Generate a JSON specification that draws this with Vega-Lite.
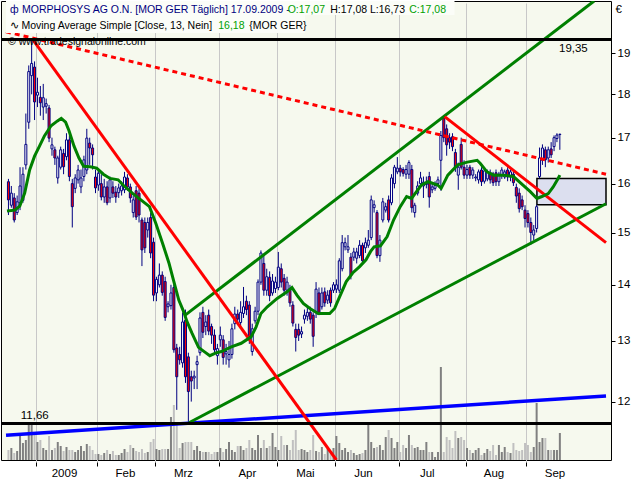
{
"$schema":"https://vega.github.io/schema/vega-lite/v6.json",
"width":610,"height":459,
"autosize":{"type":"none"},
"padding":{"left":1,"top":1,"right":29,"bottom":20},
"background":"#FFFFFF",
"config":{"view":{"fill":"#F6F9EE","stroke":"#000000","strokeWidth":1},"font":"Liberation Sans","text":{"font":"Liberation Sans","fontSize":10.5},
 "axisX":{"labelExpr":"datum.value < 20 ? '2009' : datum.value < 40 ? 'Feb' : datum.value < 60 ? 'Mrz' : datum.value < 80 ? 'Apr' : datum.value < 100 ? 'Mai' : datum.value < 120 ? 'Jun' : datum.value < 140 ? 'Jul' : datum.value < 165 ? 'Aug' : 'Sep'",
    "labelOffset":28,"labelFlush":false,"labelOverlap":false,"tickSize":4,"offset":2,"labelPadding":1,"domain":false,
    "grid":true,"gridColor":"#C8C8C8","tickColor":"#000000","labelColor":"#000000","labelFontSize":11.5,"labelFont":"Liberation Sans"},
 "axisY":{"format":"d","tickSize":4,"labelPadding":2,"domain":false,"grid":true,"gridColor":"#C8C8C8","tickColor":"#000000","labelColor":"#000000","labelFontSize":11.5,"labelFont":"Liberation Sans","titleAngle":0,"titleX":4,"titleY":8,"titleAlign":"left","titleBaseline":"middle","titleFontWeight":"normal","titleFontSize":11.5,"titleFont":"Liberation Sans","titleColor":"#000000"}
},
"datasets":{
"k":[
{"n":0,"o":16.04,"h":16.10,"l":15.35,"c":15.66,"v":100},
{"n":1,"o":15.55,"h":15.95,"l":15.50,"c":15.80,"v":120},
{"n":2,"o":15.70,"h":15.80,"l":15.20,"c":15.25,"v":70},
{"n":3,"o":15.40,"h":15.75,"l":15.35,"c":15.62,"v":90},
{"n":4,"o":15.60,"h":16.35,"l":15.45,"c":15.95,"v":270},
{"n":5,"o":15.65,"h":16.35,"l":15.60,"c":16.20,"v":170},
{"n":6,"o":16.40,"h":17.55,"l":16.30,"c":16.85,"v":200},
{"n":7,"o":17.35,"h":18.70,"l":17.20,"c":18.55,"v":370},
{"n":8,"o":18.45,"h":19.35,"l":18.00,"c":18.75,"v":380},
{"n":9,"o":18.66,"h":18.80,"l":17.40,"c":17.82,"v":250},
{"n":10,"o":17.98,"h":18.40,"l":17.70,"c":18.05,"v":180},
{"n":11,"o":17.93,"h":18.20,"l":17.50,"c":17.80,"v":200},
{"n":12,"o":17.70,"h":18.25,"l":17.40,"c":17.92,"v":120},
{"n":13,"o":17.72,"h":17.90,"l":17.55,"c":17.78,"v":100},
{"n":14,"o":17.68,"h":17.75,"l":16.90,"c":16.99,"v":240},
{"n":15,"o":16.75,"h":17.00,"l":16.60,"c":16.84,"v":100},
{"n":16,"o":16.73,"h":16.80,"l":16.40,"c":16.55,"v":120},
{"n":17,"o":16.12,"h":16.60,"l":16.00,"c":16.55,"v":180},
{"n":18,"o":16.35,"h":16.80,"l":16.30,"c":16.73,"v":140},
{"n":19,"o":16.65,"h":16.75,"l":16.20,"c":16.36,"v":90},
{"n":20,"o":16.58,"h":17.10,"l":16.50,"c":16.95,"v":130},
{"n":21,"o":16.95,"h":17.05,"l":16.05,"c":16.15,"v":100},
{"n":22,"o":16.00,"h":16.10,"l":15.10,"c":15.52,"v":100},
{"n":23,"o":15.90,"h":16.20,"l":15.80,"c":16.12,"v":80},
{"n":24,"o":16.08,"h":16.40,"l":16.00,"c":16.29,"v":100},
{"n":25,"o":15.93,"h":16.30,"l":15.80,"c":16.12,"v":140},
{"n":26,"o":16.15,"h":16.60,"l":16.05,"c":16.51,"v":90},
{"n":27,"o":16.29,"h":17.20,"l":16.20,"c":16.99,"v":160},
{"n":28,"o":16.88,"h":17.00,"l":16.40,"c":16.77,"v":140},
{"n":29,"o":16.77,"h":16.85,"l":16.30,"c":16.62,"v":100},
{"n":30,"o":16.14,"h":16.30,"l":15.80,"c":15.91,"v":60},
{"n":31,"o":15.97,"h":16.30,"l":15.85,"c":16.22,"v":60},
{"n":32,"o":16.00,"h":16.20,"l":15.65,"c":15.72,"v":50},
{"n":33,"o":15.72,"h":16.10,"l":15.60,"c":15.93,"v":70},
{"n":34,"o":15.93,"h":16.05,"l":15.55,"c":15.60,"v":100},
{"n":35,"o":15.70,"h":16.15,"l":15.60,"c":16.08,"v":60},
{"n":36,"o":15.93,"h":16.05,"l":15.70,"c":15.80,"v":90},
{"n":37,"o":15.82,"h":15.95,"l":15.60,"c":15.72,"v":50},
{"n":38,"o":15.81,"h":16.00,"l":15.70,"c":15.91,"v":50},
{"n":39,"o":15.85,"h":16.05,"l":15.75,"c":15.95,"v":70},
{"n":40,"o":15.87,"h":16.25,"l":15.80,"c":16.14,"v":110},
{"n":41,"o":16.12,"h":16.20,"l":15.85,"c":15.93,"v":80},
{"n":42,"o":15.93,"h":16.00,"l":15.60,"c":15.70,"v":150},
{"n":43,"o":15.40,"h":15.75,"l":15.30,"c":15.66,"v":120},
{"n":44,"o":15.85,"h":15.95,"l":15.25,"c":15.31,"v":90},
{"n":45,"o":15.80,"h":15.90,"l":15.20,"c":15.35,"v":80},
{"n":46,"o":15.25,"h":15.30,"l":14.35,"c":14.66,"v":110},
{"n":47,"o":15.20,"h":15.30,"l":14.60,"c":14.70,"v":70},
{"n":48,"o":15.05,"h":15.30,"l":14.90,"c":15.20,"v":80},
{"n":49,"o":15.30,"h":15.40,"l":14.50,"c":14.60,"v":180},
{"n":50,"o":14.81,"h":14.90,"l":13.70,"c":13.81,"v":210},
{"n":51,"o":13.85,"h":14.15,"l":13.70,"c":14.10,"v":110},
{"n":52,"o":14.00,"h":14.40,"l":13.95,"c":14.18,"v":100},
{"n":53,"o":14.18,"h":14.25,"l":13.80,"c":13.86,"v":110},
{"n":54,"o":14.06,"h":14.15,"l":13.35,"c":13.41,"v":110},
{"n":55,"o":13.60,"h":13.70,"l":13.50,"c":13.65,"v":110},
{"n":56,"o":13.62,"h":14.00,"l":13.55,"c":13.85,"v":430},
{"n":57,"o":13.95,"h":14.00,"l":12.80,"c":12.85,"v":550},
{"n":58,"o":12.88,"h":12.95,"l":11.87,"c":12.40,"v":350},
{"n":59,"o":12.77,"h":12.90,"l":12.60,"c":12.68,"v":120},
{"n":60,"o":12.63,"h":13.50,"l":12.55,"c":13.33,"v":170},
{"n":61,"o":13.36,"h":13.55,"l":12.30,"c":12.40,"v":180},
{"n":62,"o":12.73,"h":12.80,"l":11.66,"c":12.16,"v":180},
{"n":63,"o":12.40,"h":12.50,"l":12.00,"c":12.33,"v":180},
{"n":64,"o":12.38,"h":12.50,"l":12.20,"c":12.41,"v":100},
{"n":65,"o":12.60,"h":12.75,"l":12.20,"c":12.65,"v":140},
{"n":66,"o":12.80,"h":13.50,"l":12.75,"c":13.40,"v":90},
{"n":67,"o":13.50,"h":13.60,"l":13.05,"c":13.15,"v":80},
{"n":68,"o":13.25,"h":13.45,"l":13.10,"c":13.33,"v":80},
{"n":69,"o":13.45,"h":13.55,"l":13.10,"c":13.17,"v":80},
{"n":70,"o":13.25,"h":13.30,"l":12.95,"c":13.10,"v":60},
{"n":71,"o":13.10,"h":13.20,"l":12.80,"c":12.85,"v":80},
{"n":72,"o":12.75,"h":12.95,"l":12.60,"c":12.87,"v":80},
{"n":73,"o":13.02,"h":13.25,"l":12.90,"c":13.10,"v":120},
{"n":74,"o":13.02,"h":13.10,"l":12.60,"c":12.72,"v":80},
{"n":75,"o":12.78,"h":12.95,"l":12.60,"c":12.82,"v":110},
{"n":76,"o":12.68,"h":13.00,"l":12.55,"c":12.77,"v":180},
{"n":77,"o":12.77,"h":13.30,"l":12.70,"c":13.21,"v":100},
{"n":78,"o":13.30,"h":13.60,"l":13.20,"c":13.47,"v":80},
{"n":79,"o":13.47,"h":13.55,"l":13.30,"c":13.38,"v":140},
{"n":80,"o":13.32,"h":13.70,"l":13.25,"c":13.50,"v":140},
{"n":81,"o":13.48,"h":13.96,"l":13.40,"c":13.60,"v":100},
{"n":82,"o":13.70,"h":13.80,"l":13.45,"c":13.55,"v":120},
{"n":83,"o":13.63,"h":13.70,"l":12.95,"c":13.07,"v":200},
{"n":84,"o":12.82,"h":13.30,"l":12.75,"c":13.21,"v":120},
{"n":85,"o":13.35,"h":13.60,"l":13.30,"c":13.52,"v":100},
{"n":86,"o":13.52,"h":14.10,"l":13.45,"c":14.05,"v":250},
{"n":87,"o":14.05,"h":14.65,"l":14.00,"c":14.60,"v":120},
{"n":88,"o":14.40,"h":14.55,"l":13.80,"c":13.90,"v":200},
{"n":89,"o":13.90,"h":14.30,"l":13.80,"c":14.15,"v":120},
{"n":90,"o":14.14,"h":14.25,"l":13.70,"c":13.80,"v":140},
{"n":91,"o":13.85,"h":14.20,"l":13.80,"c":14.07,"v":270},
{"n":92,"o":13.93,"h":14.15,"l":13.85,"c":14.05,"v":130},
{"n":93,"o":13.95,"h":14.62,"l":13.90,"c":14.33,"v":100},
{"n":94,"o":14.30,"h":14.40,"l":13.95,"c":14.05,"v":240},
{"n":95,"o":14.12,"h":14.20,"l":13.80,"c":13.90,"v":150},
{"n":96,"o":13.90,"h":14.15,"l":13.80,"c":14.05,"v":150},
{"n":97,"o":13.93,"h":14.00,"l":13.60,"c":13.67,"v":100},
{"n":98,"o":13.63,"h":13.70,"l":13.25,"c":13.31,"v":200},
{"n":99,"o":13.20,"h":13.30,"l":12.82,"c":13.06,"v":300},
{"n":100,"o":13.20,"h":13.30,"l":13.00,"c":13.10,"v":100},
{"n":101,"o":13.12,"h":13.25,"l":13.05,"c":13.16,"v":110},
{"n":102,"o":13.38,"h":13.55,"l":13.30,"c":13.45,"v":100},
{"n":103,"o":13.43,"h":13.60,"l":13.35,"c":13.50,"v":80},
{"n":104,"o":13.50,"h":13.60,"l":13.30,"c":13.38,"v":100},
{"n":105,"o":13.45,"h":13.50,"l":12.90,"c":13.08,"v":250},
{"n":106,"o":13.50,"h":14.05,"l":13.40,"c":13.92,"v":90},
{"n":107,"o":13.85,"h":13.95,"l":13.45,"c":13.50,"v":80},
{"n":108,"o":13.60,"h":13.95,"l":13.55,"c":13.85,"v":130},
{"n":109,"o":13.87,"h":13.95,"l":13.60,"c":13.67,"v":60},
{"n":110,"o":13.72,"h":13.90,"l":13.65,"c":13.81,"v":110},
{"n":111,"o":13.90,"h":13.95,"l":13.60,"c":13.67,"v":90},
{"n":112,"o":13.90,"h":14.05,"l":13.85,"c":14.00,"v":120},
{"n":113,"o":13.92,"h":14.10,"l":13.85,"c":14.00,"v":240},
{"n":114,"o":13.90,"h":14.50,"l":13.85,"c":14.45,"v":170},
{"n":115,"o":14.30,"h":14.95,"l":14.25,"c":14.80,"v":100},
{"n":116,"o":14.72,"h":14.90,"l":14.65,"c":14.80,"v":120},
{"n":117,"o":14.66,"h":14.95,"l":14.60,"c":14.72,"v":80},
{"n":118,"o":14.52,"h":14.60,"l":14.10,"c":14.18,"v":100},
{"n":119,"o":14.52,"h":14.70,"l":14.45,"c":14.62,"v":70},
{"n":120,"o":14.50,"h":14.70,"l":14.40,"c":14.62,"v":50},
{"n":121,"o":14.55,"h":14.85,"l":14.50,"c":14.75,"v":60},
{"n":122,"o":14.75,"h":14.80,"l":14.40,"c":14.45,"v":70},
{"n":123,"o":14.70,"h":14.90,"l":14.60,"c":14.80,"v":100},
{"n":124,"o":14.75,"h":15.05,"l":14.70,"c":14.85,"v":360},
{"n":125,"o":14.90,"h":15.75,"l":14.85,"c":15.66,"v":180},
{"n":126,"o":15.50,"h":15.65,"l":15.40,"c":15.56,"v":120},
{"n":127,"o":15.40,"h":15.45,"l":14.50,"c":14.55,"v":130},
{"n":128,"o":14.55,"h":14.95,"l":14.43,"c":14.85,"v":150},
{"n":129,"o":15.25,"h":15.70,"l":15.20,"c":15.62,"v":100},
{"n":130,"o":15.45,"h":15.60,"l":15.40,"c":15.52,"v":230},
{"n":131,"o":15.66,"h":15.75,"l":15.20,"c":15.25,"v":300},
{"n":132,"o":15.60,"h":16.20,"l":15.55,"c":16.12,"v":220},
{"n":133,"o":16.00,"h":16.40,"l":15.90,"c":16.35,"v":120},
{"n":134,"o":16.25,"h":16.57,"l":16.20,"c":16.33,"v":180},
{"n":135,"o":16.33,"h":16.40,"l":16.15,"c":16.25,"v":80},
{"n":136,"o":16.30,"h":16.35,"l":16.15,"c":16.22,"v":150},
{"n":137,"o":16.20,"h":16.40,"l":16.10,"c":16.30,"v":120},
{"n":138,"o":16.20,"h":16.50,"l":16.10,"c":16.45,"v":250},
{"n":139,"o":16.30,"h":16.40,"l":15.40,"c":15.50,"v":150},
{"n":140,"o":15.40,"h":15.60,"l":15.30,"c":15.55,"v":120},
{"n":141,"o":15.80,"h":16.05,"l":15.75,"c":15.95,"v":130},
{"n":142,"o":16.00,"h":16.25,"l":15.95,"c":16.12,"v":100},
{"n":143,"o":15.95,"h":16.15,"l":15.70,"c":16.03,"v":100},
{"n":144,"o":15.98,"h":16.15,"l":15.90,"c":16.02,"v":180},
{"n":145,"o":16.15,"h":16.25,"l":15.50,"c":15.72,"v":80},
{"n":146,"o":15.87,"h":16.00,"l":15.80,"c":15.93,"v":80},
{"n":147,"o":15.90,"h":16.05,"l":15.85,"c":15.96,"v":30},
{"n":148,"o":16.00,"h":16.15,"l":15.95,"c":16.08,"v":80},
{"n":149,"o":16.50,"h":17.15,"l":15.85,"c":17.05,"v":930},
{"n":150,"o":17.45,"h":17.48,"l":16.90,"c":17.00,"v":80},
{"n":151,"o":17.20,"h":17.30,"l":16.60,"c":16.84,"v":230},
{"n":152,"o":17.00,"h":17.10,"l":16.75,"c":16.90,"v":200},
{"n":153,"o":17.02,"h":17.10,"l":16.70,"c":16.80,"v":120},
{"n":154,"o":16.67,"h":16.75,"l":16.25,"c":16.35,"v":290},
{"n":155,"o":16.18,"h":16.45,"l":15.87,"c":16.35,"v":220},
{"n":156,"o":16.85,"h":17.00,"l":16.30,"c":16.35,"v":230},
{"n":157,"o":16.35,"h":16.50,"l":16.10,"c":16.18,"v":200},
{"n":158,"o":16.18,"h":16.40,"l":16.10,"c":16.30,"v":120},
{"n":159,"o":16.35,"h":16.40,"l":16.10,"c":16.18,"v":100},
{"n":160,"o":16.18,"h":16.35,"l":16.10,"c":16.29,"v":70},
{"n":161,"o":16.12,"h":16.20,"l":16.05,"c":16.14,"v":100},
{"n":162,"o":16.08,"h":16.30,"l":16.00,"c":16.25,"v":120},
{"n":163,"o":16.29,"h":16.35,"l":15.95,"c":16.04,"v":50},
{"n":164,"o":16.05,"h":16.35,"l":16.00,"c":16.27,"v":70},
{"n":165,"o":16.10,"h":16.30,"l":16.05,"c":16.25,"v":110},
{"n":166,"o":16.23,"h":16.30,"l":16.00,"c":16.08,"v":90},
{"n":167,"o":16.20,"h":16.25,"l":15.95,"c":16.02,"v":150},
{"n":168,"o":16.23,"h":16.30,"l":15.95,"c":16.04,"v":50},
{"n":169,"o":16.04,"h":16.25,"l":15.95,"c":16.20,"v":150},
{"n":170,"o":16.18,"h":16.35,"l":16.10,"c":16.29,"v":80},
{"n":171,"o":16.14,"h":16.30,"l":16.10,"c":16.25,"v":130},
{"n":172,"o":16.29,"h":16.35,"l":16.05,"c":16.14,"v":80},
{"n":173,"o":16.14,"h":16.30,"l":16.05,"c":16.25,"v":70},
{"n":174,"o":16.20,"h":16.25,"l":15.95,"c":16.02,"v":170},
{"n":175,"o":15.92,"h":16.00,"l":15.60,"c":15.74,"v":100},
{"n":176,"o":15.80,"h":15.90,"l":15.40,"c":15.48,"v":90},
{"n":177,"o":15.66,"h":15.75,"l":15.45,"c":15.52,"v":100},
{"n":178,"o":15.45,"h":15.55,"l":15.10,"c":15.28,"v":170},
{"n":179,"o":15.38,"h":15.45,"l":15.10,"c":15.20,"v":150},
{"n":180,"o":15.20,"h":15.30,"l":14.76,"c":15.00,"v":80},
{"n":181,"o":14.95,"h":15.15,"l":14.85,"c":15.05,"v":130},
{"n":182,"o":15.08,"h":15.56,"l":15.00,"c":15.52,"v":570},
{"n":183,"o":16.15,"h":16.78,"l":16.11,"c":16.55,"v":180},
{"n":184,"o":16.50,"h":16.85,"l":16.40,"c":16.77,"v":220},
{"n":185,"o":16.73,"h":16.80,"l":16.35,"c":16.51,"v":220},
{"n":186,"o":16.55,"h":16.80,"l":16.45,"c":16.73,"v":100},
{"n":187,"o":16.75,"h":16.90,"l":16.55,"c":16.62,"v":100},
{"n":188,"o":16.80,"h":17.05,"l":16.70,"c":17.00,"v":100},
{"n":189,"o":16.98,"h":17.10,"l":16.90,"c":17.06,"v":100},
{"n":190,"o":17.07,"h":17.08,"l":16.73,"c":17.08,"v":270}
],
"ma":[
{"n":-0.5,"m":15.43},{"n":2.2,"m":15.45},{"n":3.9,"m":15.53},{"n":5.6,"m":15.8},{"n":7.3,"m":16.29},{"n":9.0,"m":16.59},{"n":10.7,"m":16.81},{"n":12.4,"m":17.04},{"n":14.7,"m":17.27},{"n":16.9,"m":17.38},{"n":18.2,"m":17.44},{"n":19.7,"m":17.35},{"n":20.9,"m":17.15},{"n":22.6,"m":16.81},{"n":24.3,"m":16.55},{"n":25.9,"m":16.37},{"n":28.2,"m":16.36},{"n":30.4,"m":16.33},{"n":32.7,"m":16.2},{"n":35.0,"m":16.11},{"n":37.8,"m":16.08},{"n":39.5,"m":15.97},{"n":42.9,"m":15.79},{"n":45.2,"m":15.68},{"n":48.6,"m":15.52},{"n":50.8,"m":15.18},{"n":53.1,"m":14.79},{"n":55.3,"m":14.41},{"n":57.0,"m":14.06},{"n":58.7,"m":13.72},{"n":60.4,"m":13.51},{"n":61.5,"m":13.34},{"n":63.2,"m":13.14},{"n":65.5,"m":12.89},{"n":67.7,"m":12.81},{"n":69.4,"m":12.75},{"n":71.7,"m":12.8},{"n":73.4,"m":12.82},{"n":76.8,"m":12.9},{"n":80.2,"m":12.96},{"n":83.6,"m":13.07},{"n":85.3,"m":13.24},{"n":87.0,"m":13.48},{"n":89.2,"m":13.6},{"n":92.6,"m":13.75},{"n":96.0,"m":13.87},{"n":97.7,"m":13.95},{"n":99.4,"m":13.81},{"n":101.6,"m":13.66},{"n":103.9,"m":13.57},{"n":106.7,"m":13.48},{"n":110.7,"m":13.48},{"n":112.4,"m":13.57},{"n":114.1,"m":13.78},{"n":116.4,"m":14.06},{"n":118.6,"m":14.22},{"n":121.0,"m":14.34},{"n":123.2,"m":14.47},{"n":124.8,"m":14.63},{"n":126.0,"m":14.72},{"n":128.2,"m":14.74},{"n":130.5,"m":14.92},{"n":132.7,"m":15.25},{"n":135.0,"m":15.52},{"n":137.2,"m":15.73},{"n":138.9,"m":15.69},{"n":140.1,"m":15.79},{"n":142.3,"m":15.97},{"n":144.6,"m":16.04},{"n":147.9,"m":15.97},{"n":149.1,"m":15.9},{"n":151.4,"m":16.18},{"n":154.8,"m":16.4},{"n":158.1,"m":16.46},{"n":161.5,"m":16.5},{"n":162.6,"m":16.43},{"n":164.9,"m":16.25},{"n":167.2,"m":16.18},{"n":170.6,"m":16.18},{"n":174.0,"m":16.15},{"n":177.3,"m":15.97},{"n":179.8,"m":15.83},{"n":182.1,"m":15.69},{"n":183.8,"m":15.73},{"n":186.0,"m":15.79},{"n":187.7,"m":15.93},{"n":189.4,"m":16.11},{"n":190.0,"m":16.18}
],
"tl":[
{"id":"rd","n":-0.84,"p":19.55},{"id":"rd","n":205.9,"p":16.2},
{"id":"r1","n":8.4,"p":19.35},{"id":"r1","n":113.0,"p":11.11},
{"id":"r2","n":150.3,"p":17.48},{"id":"r2","n":205.9,"p":14.8},
{"id":"gu","n":60.9,"p":13.45},{"id":"gu","n":201.8,"p":20.36},
{"id":"gl","n":62.2,"p":11.67},{"id":"gl","n":205.9,"p":15.58},
{"id":"bl","n":-0.84,"p":11.48},{"id":"bl","n":205.9,"p":12.09}
],
"lv":[{"p":19.35,"t":"19,35"},{"p":11.66,"t":"11,66"}],
"gap":[{"n1":182.1,"n2":205.9,"p1":15.56,"p2":16.11}]
},
"resolve":{"scale":{"y":"independent"}},
"layer":[
{"data":{"name":"k"},"mark":{"type":"bar","size":2},
 "encoding":{
  "x":{"field":"n","type":"quantitative","scale":{"domain":[-0.84,205.9],"nice":false,"zero":false},"axis":{"values":[9.5,30.5,50.5,72.5,92.5,112.5,134.5,157.5,178.5],"title":null}},
  "y":{"field":"v","type":"quantitative","scale":{"domain":[0,4590]},"axis":null},
  "color":{"condition":{"test":"datum.c >= datum.o","value":"#808080"},"value":"#C0C0C0"}
 }},
{"layer":[
 {"data":{"name":"gap"},"mark":{"type":"rect","fill":"#DCDFEF","stroke":"#000000","strokeWidth":1.5,"clip":true},
  "encoding":{"x":{"field":"n1","type":"quantitative","scale":{"domain":[-0.84,205.9],"nice":false,"zero":false},"axis":{"values":[9.5,30.5,50.5,72.5,92.5,112.5,134.5,157.5,178.5],"title":null}},
   "x2":{"field":"n2"},
   "y":{"field":"p1","type":"quantitative","scale":{"type":"log","domain":[11.11,20.36],"nice":false,"zero":false},"axis":{"orient":"right","values":[12,13,14,15,16,17,18,19],"title":"€"}},
   "y2":{"field":"p2"}}},
 {"data":{"name":"k"},"mark":{"type":"rule","color":"#000080","strokeWidth":1},
  "encoding":{"x":{"field":"n","type":"quantitative","scale":{"domain":[-0.84,205.9],"nice":false,"zero":false},"axis":{"values":[9.5,30.5,50.5,72.5,92.5,112.5,134.5,157.5,178.5],"title":null}},
   "y":{"field":"l","type":"quantitative","scale":{"type":"log","domain":[11.11,20.36],"nice":false,"zero":false},"axis":{"orient":"right","values":[12,13,14,15,16,17,18,19],"title":"€"}},
   "y2":{"field":"h"}}},
 {"data":{"name":"k"},"mark":{"type":"bar","size":2,"stroke":"#000080","strokeWidth":1},
  "encoding":{"x":{"field":"n","type":"quantitative","scale":{"domain":[-0.84,205.9],"nice":false,"zero":false},"axis":{"values":[9.5,30.5,50.5,72.5,92.5,112.5,134.5,157.5,178.5],"title":null}},
   "y":{"field":"o","type":"quantitative","scale":{"type":"log","domain":[11.11,20.36],"nice":false,"zero":false},"axis":{"orient":"right","values":[12,13,14,15,16,17,18,19],"title":"€"}},
   "y2":{"field":"c"},
   "fill":{"condition":{"test":"datum.c < datum.o","value":"#FF0000"},"value":"#FFFFFF"}}},
 {"data":{"name":"tl"},"transform":[{"filter":"datum.id == 'bl'"}],"mark":{"type":"line","color":"#0000FF","strokeWidth":3.5,"clip":true},
  "encoding":{"x":{"field":"n","type":"quantitative","scale":{"domain":[-0.84,205.9],"nice":false,"zero":false},"axis":{"values":[9.5,30.5,50.5,72.5,92.5,112.5,134.5,157.5,178.5],"title":null}},
   "y":{"field":"p","type":"quantitative","scale":{"type":"log","domain":[11.11,20.36],"nice":false,"zero":false},"axis":{"orient":"right","values":[12,13,14,15,16,17,18,19],"title":"€"}},
   "detail":{"field":"id"}}},
 {"data":{"name":"tl"},"transform":[{"filter":"datum.id == 'gu' || datum.id == 'gl'"}],"mark":{"type":"line","color":"#008000","strokeWidth":3,"clip":true},
  "encoding":{"x":{"field":"n","type":"quantitative","scale":{"domain":[-0.84,205.9],"nice":false,"zero":false},"axis":{"values":[9.5,30.5,50.5,72.5,92.5,112.5,134.5,157.5,178.5],"title":null}},
   "y":{"field":"p","type":"quantitative","scale":{"type":"log","domain":[11.11,20.36],"nice":false,"zero":false},"axis":{"orient":"right","values":[12,13,14,15,16,17,18,19],"title":"€"}},
   "detail":{"field":"id"}}},
 {"data":{"name":"tl"},"transform":[{"filter":"datum.id == 'r1' || datum.id == 'r2'"}],"mark":{"type":"line","color":"#FF0000","strokeWidth":3,"clip":true},
  "encoding":{"x":{"field":"n","type":"quantitative","scale":{"domain":[-0.84,205.9],"nice":false,"zero":false},"axis":{"values":[9.5,30.5,50.5,72.5,92.5,112.5,134.5,157.5,178.5],"title":null}},
   "y":{"field":"p","type":"quantitative","scale":{"type":"log","domain":[11.11,20.36],"nice":false,"zero":false},"axis":{"orient":"right","values":[12,13,14,15,16,17,18,19],"title":"€"}},
   "detail":{"field":"id"}}},
 {"data":{"name":"tl"},"transform":[{"filter":"datum.id == 'rd'"}],"mark":{"type":"line","color":"#FF0000","strokeWidth":3,"strokeDash":[5,4],"clip":true},
  "encoding":{"x":{"field":"n","type":"quantitative","scale":{"domain":[-0.84,205.9],"nice":false,"zero":false},"axis":{"values":[9.5,30.5,50.5,72.5,92.5,112.5,134.5,157.5,178.5],"title":null}},
   "y":{"field":"p","type":"quantitative","scale":{"type":"log","domain":[11.11,20.36],"nice":false,"zero":false},"axis":{"orient":"right","values":[12,13,14,15,16,17,18,19],"title":"€"}},
   "detail":{"field":"id"}}},
 {"data":{"name":"ma"},"mark":{"type":"line","color":"#008000","strokeWidth":3,"clip":true},
  "encoding":{"x":{"field":"n","type":"quantitative","scale":{"domain":[-0.84,205.9],"nice":false,"zero":false},"axis":{"values":[9.5,30.5,50.5,72.5,92.5,112.5,134.5,157.5,178.5],"title":null}},
   "y":{"field":"m","type":"quantitative","scale":{"type":"log","domain":[11.11,20.36],"nice":false,"zero":false},"axis":{"orient":"right","values":[12,13,14,15,16,17,18,19],"title":"€"}}}},
 {"data":{"name":"lv"},"mark":{"type":"rule","color":"#000000","strokeWidth":3},
  "encoding":{"y":{"field":"p","type":"quantitative","scale":{"type":"log","domain":[11.11,20.36],"nice":false,"zero":false},"axis":{"orient":"right","values":[12,13,14,15,16,17,18,19],"title":"€"}}}},
 {"data":{"name":"lv"},"transform":[{"filter":"datum.p > 15"}],"mark":{"type":"text","align":"left","baseline":"top","dy":3,"fontSize":11.5,"color":"#000000"},
  "encoding":{"x":{"datum":189.7,"type":"quantitative","scale":{"domain":[-0.84,205.9],"nice":false,"zero":false},"axis":{"values":[9.5,30.5,50.5,72.5,92.5,112.5,134.5,157.5,178.5],"title":null}},
   "y":{"field":"p","type":"quantitative","scale":{"type":"log","domain":[11.11,20.36],"nice":false,"zero":false},"axis":{"orient":"right","values":[12,13,14,15,16,17,18,19],"title":"€"}},
   "text":{"field":"t"}}},
 {"data":{"name":"lv"},"transform":[{"filter":"datum.p < 15"}],"mark":{"type":"text","align":"left","baseline":"bottom","dy":-2,"fontSize":11.5,"color":"#000000"},
  "encoding":{"x":{"datum":4.25,"type":"quantitative","scale":{"domain":[-0.84,205.9],"nice":false,"zero":false},"axis":{"values":[9.5,30.5,50.5,72.5,92.5,112.5,134.5,157.5,178.5],"title":null}},
   "y":{"field":"p","type":"quantitative","scale":{"type":"log","domain":[11.11,20.36],"nice":false,"zero":false},"axis":{"orient":"right","values":[12,13,14,15,16,17,18,19],"title":"€"}},
   "text":{"field":"t"}}},
 {"data":{"values":[{}]},"mark":{"type":"rect","fill":"#FBFDF8"},
  "encoding":{"x":{"datum":-0.84,"type":"quantitative","scale":{"domain":[-0.84,205.9],"nice":false,"zero":false},"axis":{"values":[9.5,30.5,50.5,72.5,92.5,112.5,134.5,157.5,178.5],"title":null}},
   "x2":{"datum":153.7},
   "y":{"datum":19.99,"type":"quantitative","scale":{"type":"log","domain":[11.11,20.36],"nice":false,"zero":false},"axis":{"orient":"right","values":[12,13,14,15,16,17,18,19],"title":"€"}},
   "y2":{"datum":20.36}}},
 {"data":{"values":[{}]},"mark":{"type":"rect","fill":"#FBFDF8"},
  "encoding":{"x":{"datum":-0.84,"type":"quantitative","scale":{"domain":[-0.84,205.9],"nice":false,"zero":false},"axis":{"values":[9.5,30.5,50.5,72.5,92.5,112.5,134.5,157.5,178.5],"title":null}},
   "x2":{"datum":102.2},
   "y":{"datum":19.52,"type":"quantitative","scale":{"type":"log","domain":[11.11,20.36],"nice":false,"zero":false},"axis":{"orient":"right","values":[12,13,14,15,16,17,18,19],"title":"€"}},
   "y2":{"datum":19.99}}},
 {"data":{"values":[
   {"t":"ф","x":2.0,"y":20.12,"k":"navy","a":"center"},
   {"t":"MORPHOSYS AG O.N. [MOR GER  Täglich] 17.09.2009 -","x":4.69,"y":20.12,"k":"navy","a":"left"},
   {"t":"O:17,07","x":96.2,"y":20.12,"k":"green","a":"left"},
   {"t":"H:17,08 L:16,73","x":110.9,"y":20.12,"k":"black","a":"left"},
   {"t":"C:17,08","x":138.1,"y":20.12,"k":"green","a":"left"},
   {"t":"∿","x":2.0,"y":19.70,"k":"black","a":"center"},
   {"t":"Moving Average Simple [Close, 13, Nein]","x":4.48,"y":19.70,"k":"black","a":"left"},
   {"t":"16,18","x":72.3,"y":19.70,"k":"green","a":"left"},
   {"t":"{MOR GER}","x":83.0,"y":19.70,"k":"black","a":"left"},
   {"t":"© www.tradesignalonline.com","x":-0.16,"y":19.29,"k":"black","a":"left"}
  ]},
  "mark":{"type":"text","baseline":"middle","fontSize":10.5,"font":"Liberation Sans","align":{"expr":"datum.a"}},
  "encoding":{"x":{"field":"x","type":"quantitative","scale":{"domain":[-0.84,205.9],"nice":false,"zero":false},"axis":{"values":[9.5,30.5,50.5,72.5,92.5,112.5,134.5,157.5,178.5],"title":null}},
   "y":{"field":"y","type":"quantitative","scale":{"type":"log","domain":[11.11,20.36],"nice":false,"zero":false},"axis":{"orient":"right","values":[12,13,14,15,16,17,18,19],"title":"€"}},
   "text":{"field":"t"},
   "color":{"field":"k","type":"nominal","scale":{"domain":["navy","green","black"],"range":["#000080","#00A000","#000000"]},"legend":null}}}
]}
]
}
